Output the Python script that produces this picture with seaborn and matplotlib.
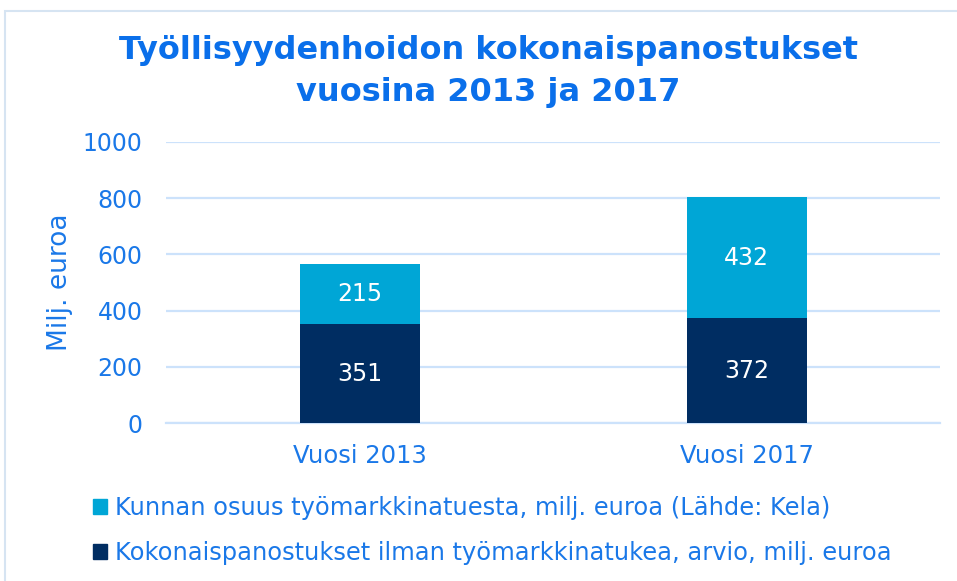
import pandas as pd
import matplotlib.pyplot as plt
import matplotlib.patches as mpatches
import seaborn as sns

# data
years = ["Vuosi 2013", "Vuosi 2017"]
base = [351, 372]          # Kokonaispanostukset ilman työmarkkinatukea
kunta = [215, 432]         # Kunnan osuus työmarkkinatuesta
series_names = [
    "Kunnan osuus työmarkkinatuesta, milj. euroa (Lähde: Kela)",
    "Kokonaispanostukset ilman työmarkkinatukea, arvio, milj. euroa",
]
yticks = [0, 200, 400, 600, 800, 1000]

navy = "#002D62"
cyan = "#00A6D6"
blue = "#1A78E8"
title_blue = "#0A6FEA"
grid_col = "#CCE2FB"

sns.set_theme(style="white")
plt.rcParams["font.family"] = ["DejaVu Sans"]

df = pd.DataFrame({"year": years, "base": base, "kunta": kunta})
df["total"] = df["base"] + df["kunta"]

fig = plt.figure(figsize=(9.57, 5.81), dpi=100)
ax = fig.add_axes([0.1735, 0.2719, 0.8088, 0.4837])

sns.barplot(data=df, x="year", y="total", color=cyan, width=0.31,
            saturation=1, ax=ax, zorder=3, linewidth=0)
sns.barplot(data=df, x="year", y="base", color=navy, width=0.31,
            saturation=1, ax=ax, zorder=3, linewidth=0)

for i, row in df.iterrows():
    ax.text(i, row["base"] / 2, f"{row['base']}", ha="center", va="center",
            color="white", fontsize=17, zorder=4)
    ax.text(i, row["base"] + row["kunta"] / 2, f"{row['kunta']}", ha="center",
            va="center", color="white", fontsize=17, zorder=4)

ax.set_xlim(-0.5, 1.5)
ax.set_ylim(0, 1000)
ax.set_yticks(yticks)
ax.yaxis.grid(True, color=grid_col, linewidth=1.6, zorder=0)
ax.set_axisbelow(True)
for s in ["top", "right", "left"]:
    ax.spines[s].set_visible(False)
ax.spines["bottom"].set_color(grid_col)
ax.spines["bottom"].set_linewidth(1.6)
ax.tick_params(axis="y", colors=blue, labelsize=17, length=0, pad=17)
ax.tick_params(axis="x", colors=blue, labelsize=17.5, length=0, pad=15)
ax.set_xlabel("")
ax.set_ylabel("Milj. euroa", color=blue, fontsize=19, labelpad=7)

fig.text(0.51, 0.877, "Työllisyydenhoidon kokonaispanostukset\nvuosina 2013 ja 2017",
         ha="center", va="center", color=title_blue, fontsize=23,
         fontweight="bold", linespacing=1.42)

handles = [mpatches.Patch(color=cyan), mpatches.Patch(color=navy)]
leg = fig.legend(handles, series_names, loc="upper left",
                 bbox_to_anchor=(0.097, 0.146), frameon=False, fontsize=17.4,
                 handlelength=0.6, handleheight=0.6, handletextpad=0.3,
                 labelspacing=0.85, borderaxespad=0, borderpad=0)
for t in leg.get_texts():
    t.set_color(blue)

# chart border
fig.patches.append(mpatches.Rectangle((5 / 957, -0.1), 1.2, 1 - 11 / 581 + 0.1,
                                      transform=fig.transFigure, fill=False,
                                      edgecolor="#D6E4F2", linewidth=1.5))

fig.savefig("out.png", dpi=100)
